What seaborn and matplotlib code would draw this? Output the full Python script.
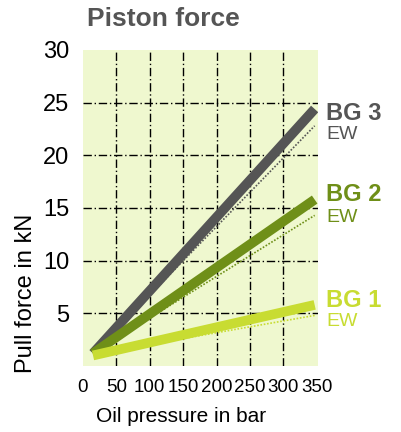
import matplotlib
matplotlib.use("Agg")
import matplotlib.pyplot as plt
import seaborn as sns
import pandas as pd

series = ["BG 3", "BG 2", "BG 1"]
pressure = [15, 347]
force_bg3 = [1.2, 24.4]
force_bg2 = [1.2, 15.8]
force_bg1 = [1.0, 5.8]
ew_bg3 = [1.2, 22.8]
ew_bg2 = [1.2, 14.3]
ew_bg1 = [1.1, 4.8]
x_ticks = [0, 50, 100, 150, 200, 250, 300, 350]
y_ticks = [5, 10, 15, 20, 25, 30]
colors = {"BG 3": "#555555", "BG 2": "#6f8f18", "BG 1": "#c8dc32"}

rows = []
for name, f, e in zip(series, [force_bg3, force_bg2, force_bg1], [ew_bg3, ew_bg2, ew_bg1]):
    for p, fv, ev in zip(pressure, f, e):
        rows.append({"series": name, "pressure": p, "force": fv, "ew": ev})
df = pd.DataFrame(rows)

sns.set_theme(style="white")
plt.rcParams["font.family"] = ["Liberation Sans", "DejaVu Sans"]

fig = plt.figure(figsize=(4.01, 4.32), dpi=100)
ax = fig.add_axes([83/401, 1-366/432, 235/401, 316/432])
ax.set_facecolor("#eff8cf")

for y in y_ticks[:-1]:
    ax.axhline(y, color="black", lw=1, ls=(0, (6, 2, 1, 2)), zorder=1)
for x in x_ticks[1:-1]:
    ax.axvline(x, color="black", lw=1, ls=(0, (6, 2, 1, 2)), zorder=1)

sns.lineplot(data=df, x="pressure", y="ew", hue="series", palette=colors,
             ax=ax, lw=1.2, legend=False, zorder=2)
for l in ax.lines[-3:]:
    l.set_linestyle((0, (1, 1)))
sns.lineplot(data=df, x="pressure", y="force", hue="series", palette=colors,
             ax=ax, lw=7, legend=False, zorder=3)
for l in ax.lines[-3:]:
    l.set_solid_capstyle("butt")

ax.set_xlim(0, 352)
ax.set_ylim(0, 30)
ax.set_xticks(x_ticks)
ax.set_yticks(y_ticks)
ax.tick_params(axis="y", labelsize=17, length=0, pad=10, colors="black")
ax.tick_params(axis="x", labelsize=13.5, length=0, pad=9, colors="black")
for s in ax.spines.values():
    s.set_visible(False)
ax.grid(False)
ax.set_xlabel("")
ax.set_ylabel("")
fig.text(181/401, 1-416/432, "Oil pressure in bar", fontsize=15, color="black",
         ha="center", va="center")
fig.text(26/401, 1-293/432, "Pull force in kN", fontsize=17, color="black",
         ha="center", va="center", rotation=90)

label_pos = {"BG 3": (24.0, 22.0), "BG 2": (16.3, 14.1), "BG 1": (6.26, 4.2)}
for name in series:
    yb, ye = label_pos[name]
    ax.text(1.035, yb / 30, name, transform=ax.transAxes, fontsize=17,
            fontweight="bold", color=colors[name], va="center", ha="left")
    ax.text(1.035, ye / 30, "EW", transform=ax.transAxes, fontsize=14,
            color=colors[name], va="center", ha="left")

fig.text(87/401, 1-19/432, "Piston force", fontsize=19, fontweight="bold",
         color="#555555", va="center", ha="left")

fig.savefig("out.png", dpi=100)
